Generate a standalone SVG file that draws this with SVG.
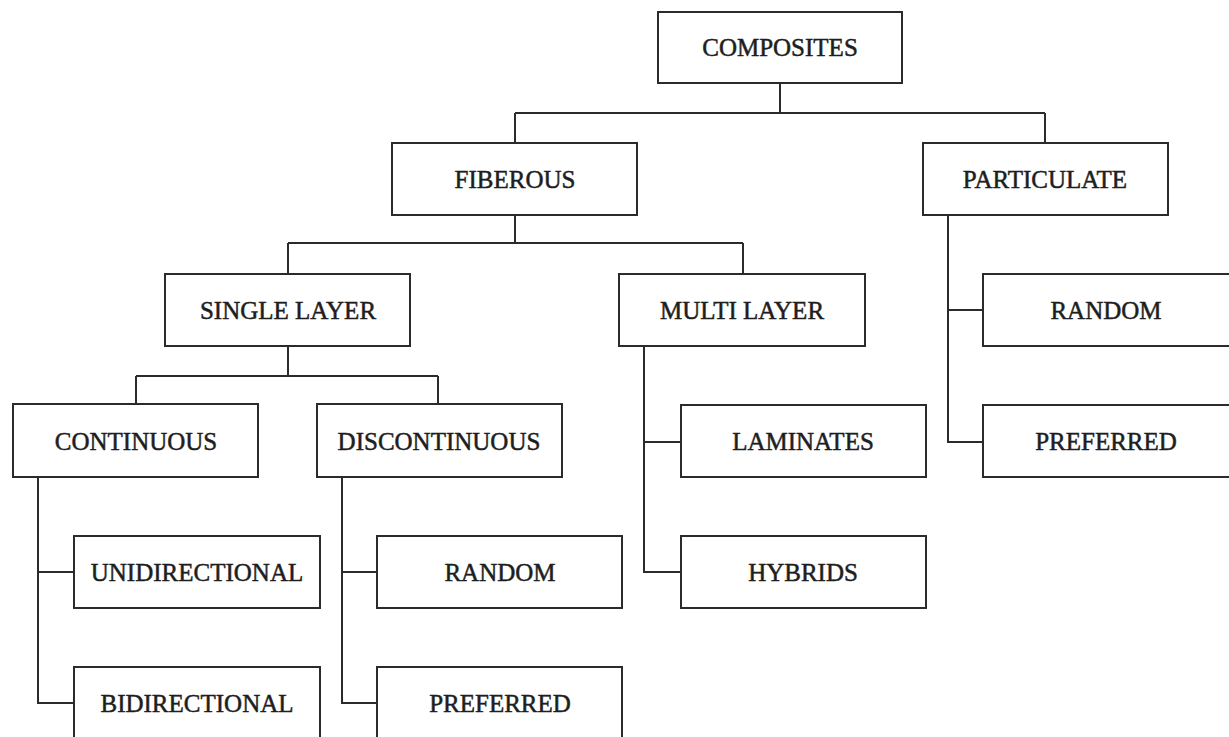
<svg xmlns="http://www.w3.org/2000/svg" width="1229" height="737" viewBox="0 0 1229 737">
<style>
.box{fill:#fff;stroke:#2b2b2b;stroke-width:2}
.lbl{font-family:"Liberation Serif","Times New Roman",serif;font-size:25px;fill:#1e1e1e;stroke:#1e1e1e;stroke-width:0.5;text-anchor:middle}
.ln{fill:none;stroke:#2b2b2b;stroke-width:2}
</style>
<rect width="1229" height="737" fill="#fff"/>
<g id="connectors">
<path class="ln" d="M780 83V113M515 113H1045M515 113V143M1045 113V143"/>
<path class="ln" d="M515 215V243M288 243H743M288 243V274M743 243V274"/>
<path class="ln" d="M288 346V376M136 376H438M136 376V404M438 376V404"/>
<path class="ln" d="M38 477V703H74M38 572H74"/>
<path class="ln" d="M342 477V703H377M342 572H377"/>
<path class="ln" d="M644 346V572H681M644 442H681"/>
<path class="ln" d="M948 215V442H983M948 310H983"/>
</g>
<g id="composites"><rect class="box" x="658" y="12" width="244" height="71"/><text class="lbl" x="780" y="56">COMPOSITES</text></g>
<g id="fiberous"><rect class="box" x="392" y="143" width="245" height="72"/><text class="lbl" x="515" y="188">FIBEROUS</text></g>
<g id="particulate"><rect class="box" x="923" y="143" width="245" height="72"/><text class="lbl" x="1045" y="188">PARTICULATE</text></g>
<g id="single-layer"><rect class="box" x="165" y="274" width="245" height="72"/><text class="lbl" x="288" y="319">SINGLE LAYER</text></g>
<g id="multi-layer"><rect class="box" x="619" y="274" width="246" height="72"/><text class="lbl" x="742" y="319">MULTI LAYER</text></g>
<g id="random-p"><rect class="box" x="983" y="274" width="250" height="72"/><text class="lbl" x="1106" y="319">RANDOM</text></g>
<g id="continuous"><rect class="box" x="13" y="404" width="245" height="73"/><text class="lbl" x="136" y="450">CONTINUOUS</text></g>
<g id="discontinuous"><rect class="box" x="317" y="404" width="245" height="73"/><text class="lbl" x="439" y="450">DISCONTINUOUS</text></g>
<g id="laminates"><rect class="box" x="681" y="405" width="245" height="72"/><text class="lbl" x="803" y="450">LAMINATES</text></g>
<g id="preferred-p"><rect class="box" x="983" y="405" width="250" height="72"/><text class="lbl" x="1106" y="450">PREFERRED</text></g>
<g id="unidirectional"><rect class="box" x="74" y="536" width="246" height="72"/><text class="lbl" x="197" y="581">UNIDIRECTIONAL</text></g>
<g id="random-d"><rect class="box" x="377" y="536" width="245" height="72"/><text class="lbl" x="500" y="581">RANDOM</text></g>
<g id="hybrids"><rect class="box" x="681" y="536" width="245" height="72"/><text class="lbl" x="803" y="581">HYBRIDS</text></g>
<g id="bidirectional"><rect class="box" x="74" y="667" width="246" height="80"/><text class="lbl" x="197" y="712">BIDIRECTIONAL</text></g>
<g id="preferred-d"><rect class="box" x="377" y="667" width="245" height="80"/><text class="lbl" x="500" y="712">PREFERRED</text></g>
</svg>
